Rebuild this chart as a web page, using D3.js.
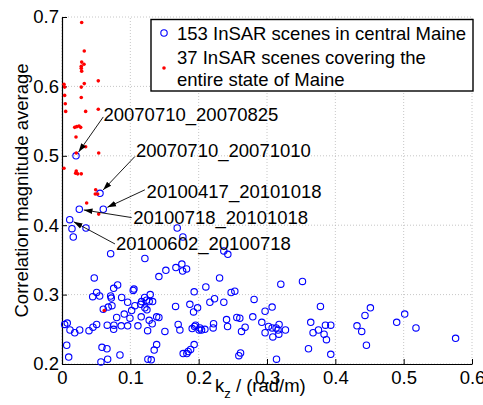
<!DOCTYPE html>
<html>
<head>
<meta charset="utf-8">
<script src="https://cdn.jsdelivr.net/npm/d3@7"></script>
<style>
  body { margin: 0; background: #fff; }
  text { font-family: "Liberation Sans", Arial, sans-serif; fill: #000; }
</style>
</head>
<body>
<div id="chart"></div>
<script>
// 153 InSAR scenes in central Maine (kz, correlation)
const blueKz = [0.0205,0.0556,0.0604,0.0253,0.0113,0.0146,0.0351,0.0165,0.0712,0.1213,
  0.1686,0.1769,0.2368,0.2427,0.152,0.1667,0.1754,0.1823,0.1765,0.1418,
  0.2306,0.3519,0.0472,0.0814,0.0756,0.1042,0.1053,0.0507,0.0449,0.0551,
  0.0712,0.0721,0.0873,0.0961,0.1165,0.1151,0.1209,0.1291,0.1238,0.1276,
  0.1326,0.0604,0.0677,0.0731,0.1067,0.1019,0.1213,0.1243,0.0911,0.08,
  0.1159,0.0994,0.1385,0.1418,0.1276,0.0039,0.0077,0.0117,0.0186,0.0259,
  0.0395,0.0453,0.0507,0.0662,0.076,0.0756,0.0867,0.0961,0.1111,0.1253,
  0.132,0.1506,0.1662,0.1871,0.1934,0.1984,0.1925,0.17,0.1725,0.1905,
  0.194,0.1955,0.2018,0.2007,0.2042,0.2091,0.0069,0.0098,0.0585,0.0658,
  0.0848,0.057,0.0668,0.1385,0.1349,0.1257,0.1306,0.1934,0.1882,0.1846,
  0.1773,0.1827,0.2105,0.2475,0.2529,0.2164,0.2232,0.2368,0.2811,0.3202,
  0.3782,0.3075,0.2972,0.2408,0.2423,0.2558,0.2602,0.2792,0.2924,0.268,
  0.2627,0.2218,0.2212,0.2972,0.3022,0.3075,0.3133,0.3177,0.3162,0.3173,
  0.3085,0.327,0.364,0.3674,0.3753,0.3835,0.3855,0.3933,0.387,0.3607,
  0.3933,0.2613,0.2588,0.3139,0.4513,0.4434,0.4317,0.4386,0.4455,0.4898,
  0.5015,0.518,0.576];
const blueCorr = [0.500,0.446,0.423,0.423,0.408,0.395,0.396,0.383,0.359,0.352,
  0.396,0.383,0.363,0.358,0.335,0.339,0.344,0.337,0.334,0.326,
  0.324,0.319,0.324,0.314,0.309,0.306,0.308,0.303,0.297,0.298,
  0.298,0.295,0.296,0.289,0.290,0.286,0.296,0.300,0.292,0.290,
  0.290,0.279,0.282,0.284,0.284,0.277,0.281,0.278,0.272,0.267,
  0.268,0.266,0.268,0.267,0.263,0.257,0.259,0.249,0.245,0.249,
  0.248,0.253,0.257,0.256,0.256,0.250,0.255,0.255,0.255,0.248,
  0.258,0.247,0.283,0.286,0.304,0.281,0.275,0.257,0.249,0.251,
  0.254,0.256,0.252,0.249,0.249,0.250,0.227,0.210,0.224,0.222,
  0.213,0.203,0.207,0.228,0.220,0.207,0.206,0.228,0.221,0.218,
  0.215,0.215,0.311,0.303,0.305,0.289,0.294,0.289,0.293,0.315,
  0.283,0.282,0.276,0.264,0.254,0.267,0.266,0.268,0.260,0.253,
  0.247,0.258,0.252,0.245,0.254,0.252,0.252,0.257,0.249,0.243,
  0.239,0.249,0.260,0.245,0.249,0.243,0.256,0.256,0.235,0.222,
  0.214,0.216,0.212,0.207,0.281,0.270,0.255,0.247,0.227,0.260,
  0.272,0.252,0.237];

// 37 InSAR scenes covering the entire state of Maine
const redKz = [0.0288,0.0326,0.0288,0.0322,0.0282,0.0282,0.0288,0.0531,0.0326,0.0029,
  0.0039,0.0282,0.0039,0.0282,0.0048,0.0531,0.0054,0.0346,0.0186,0.0215,
  0.0249,0.0273,0.0205,0.0346,0.0537,0.0029,0.0209,0.02,0.023,0.0282,
  0.0493,0.0487,0.0522,0.0361,0.0537,0.0618,0.0209];
const redCorr = [0.692,0.651,0.635,0.632,0.629,0.626,0.622,0.608,0.604,0.603,
  0.599,0.599,0.587,0.584,0.575,0.567,0.564,0.564,0.541,0.542,
  0.543,0.541,0.527,0.513,0.504,0.482,0.478,0.475,0.474,0.474,
  0.451,0.445,0.445,0.432,0.416,0.277,0.504];

// annotated scenes: index into blue arrays, label text, text position, arrow tail
const noteLabels = ["20070710_20070825","20070710_20071010","20100417_20101018","20100718_20101018","20100602_20100718"];
const noteIndex = [0, 1, 2, 3, 4];
const noteTextX = [0.0607, 0.1082, 0.1238, 0.1042, 0.0789];
const noteTextY = [0.560, 0.508, 0.449, 0.411, 0.374];
const noteTailX = [0.0604, 0.1067, 0.1213, 0.1019, 0.0775];
const noteTailY = [0.556, 0.499, 0.451, 0.411, 0.373];

const xTicks = [0, 0.1, 0.2, 0.3, 0.4, 0.5, 0.6];
const yTicks = [0.2, 0.3, 0.4, 0.5, 0.6, 0.7];

const width = 483, height = 405;
const margin = {left: 62, right: 11, top: 17, bottom: 41};

const svg = d3.select("#chart").append("svg")
    .attr("width", width)
    .attr("height", height);

const x = d3.scaleLinear().domain([0, 0.6]).range([margin.left, width - margin.right]);
const y = d3.scaleLinear().domain([0.2, 0.7]).range([height - margin.bottom, margin.top]);

// grid (dotted)
const grid = svg.append("g").attr("stroke", "#b8b8b8").attr("stroke-width", 0.8).attr("stroke-dasharray", "1,2");
grid.selectAll("line.gx").data(xTicks).join("line")
    .attr("x1", d => x(d)).attr("x2", d => x(d))
    .attr("y1", y(0.2)).attr("y2", y(0.7));
grid.selectAll("line.gy").data(yTicks).join("line")
    .attr("y1", d => y(d)).attr("y2", d => y(d))
    .attr("x1", x(0)).attr("x2", x(0.6));

// axes
const xAxis = svg.append("g")
    .attr("transform", `translate(0,${y(0.2)})`)
    .call(d3.axisBottom(x).tickValues(xTicks).tickFormat(d3.format("")).tickSize(-5).tickSizeOuter(0).tickPadding(7));
const yAxis = svg.append("g")
    .attr("transform", `translate(${x(0)},0)`)
    .call(d3.axisLeft(y).tickValues(yTicks).tickFormat(d3.format("")).tickSize(-5).tickSizeOuter(0).tickPadding(3));

[xAxis, yAxis].forEach(a => {
    a.select(".domain").attr("stroke", "#000").attr("stroke-width", 1.2);
    a.selectAll(".tick line").attr("stroke", "#000");
    a.selectAll(".tick text").attr("font-size", 18.5).attr("fill", "#000")
        .attr("font-family", "Liberation Sans, Arial, sans-serif");
});

// blue circles
svg.append("g").selectAll("circle")
    .data(d3.range(blueKz.length))
    .join("circle")
    .attr("cx", i => x(blueKz[i]))
    .attr("cy", i => y(blueCorr[i]))
    .attr("r", 3.2)
    .attr("fill", "none")
    .attr("stroke", "#0000ff")
    .attr("stroke-width", 1.1);

// red dots
svg.append("g").selectAll("circle")
    .data(d3.range(redKz.length))
    .join("circle")
    .attr("cx", i => x(redKz[i]))
    .attr("cy", i => y(redCorr[i]))
    .attr("r", 1.8)
    .attr("fill", "#ff0000");

// arrows
svg.append("defs").append("marker")
    .attr("id", "arrow")
    .attr("viewBox", "0 -4 10 8")
    .attr("refX", 10)
    .attr("refY", 0)
    .attr("markerUnits", "userSpaceOnUse")
    .attr("markerWidth", 9)
    .attr("markerHeight", 7)
    .attr("orient", "auto")
    .append("path")
    .attr("d", "M0,-3.2L10,0L0,3.2Z")
    .attr("fill", "#000");

const notes = svg.append("g");
noteLabels.forEach((lab, k) => {
    const tx = x(noteTailX[k]), ty = y(noteTailY[k]);
    const px = x(blueKz[noteIndex[k]]), py = y(blueCorr[noteIndex[k]]);
    const len = Math.hypot(tx - px, ty - py);
    const hx = px + (tx - px) / len * 4.5, hy = py + (ty - py) / len * 4.5;
    notes.append("line")
        .attr("x1", tx).attr("y1", ty).attr("x2", hx).attr("y2", hy)
        .attr("stroke", "#000").attr("stroke-width", 0.9)
        .attr("marker-end", "url(#arrow)");
    notes.append("text")
        .attr("x", x(noteTextX[k]))
        .attr("y", y(noteTextY[k]))
        .attr("dy", "0.36em")
        .attr("font-size", 18.5)
        .text(lab);
});

// legend
const lg = svg.append("g");
lg.append("rect")
    .attr("x", 151).attr("y", 19.5).attr("width", 322).attr("height", 71.5)
    .attr("fill", "#fff").attr("stroke", "#000").attr("stroke-width", 1.4);
lg.append("circle").attr("cx", 164).attr("cy", 33).attr("r", 3.2)
    .attr("fill", "none").attr("stroke", "#0000ff").attr("stroke-width", 1.1);
lg.append("text").attr("x", 177).attr("y", 33).attr("dy", "0.36em").attr("font-size", 18.5)
    .text("153 InSAR scenes in central Maine");
lg.append("circle").attr("cx", 164).attr("cy", 68).attr("r", 1.8).attr("fill", "#ff0000");
lg.append("text").attr("x", 177).attr("y", 57).attr("dy", "0.36em").attr("font-size", 18.5)
    .text("37 InSAR scenes covering the");
lg.append("text").attr("x", 177).attr("y", 79).attr("dy", "0.36em").attr("font-size", 18.5)
    .text("entire state of Maine");

// axis labels
const xl = svg.append("text")
    .attr("x", 215)
    .attr("y", 392)
    .attr("font-size", 18.5);
xl.append("tspan").text("k");
xl.append("tspan").attr("dy", 6).attr("font-size", 13).text("z");
xl.append("tspan").attr("dy", -6).text(" / (rad/m)");

svg.append("text")
    .attr("transform", `translate(28,${(y(0.2) + y(0.7)) / 2}) rotate(-90)`)
    .attr("text-anchor", "middle")
    .attr("font-size", 18.5)
    .text("Correlation magnitude average");
</script>
</body>
</html>
